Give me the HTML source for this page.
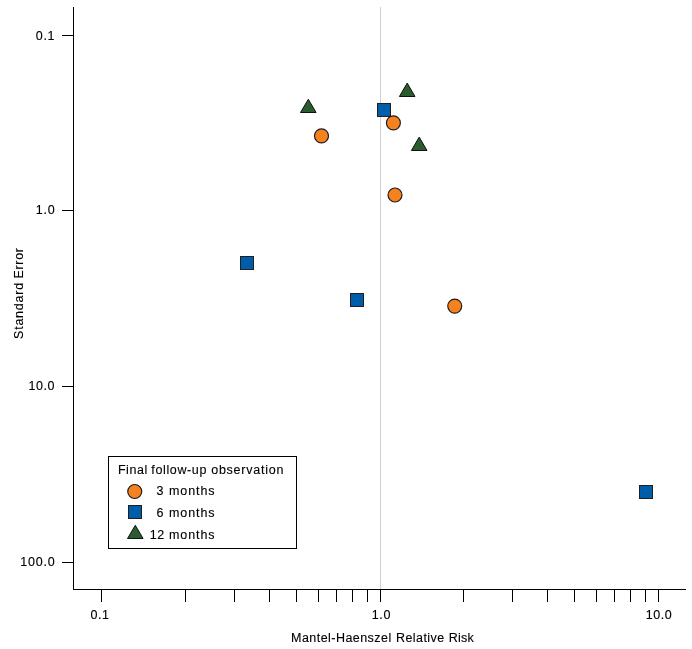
<!DOCTYPE html>
<html><head><meta charset="utf-8"><title>Funnel plot</title>
<style>html,body{margin:0;padding:0;background:#fff;}body{width:692px;height:649px;overflow:hidden;}svg{will-change:transform;display:block;position:absolute;left:0;top:0;}text{font-family:"Liberation Sans",sans-serif;font-size:12.5px;fill:#000;stroke:#000;stroke-width:0.12px;}</style>
</head><body>
<svg width="692" height="649" viewBox="0 0 692 649">
<rect x="0" y="0" width="692" height="649" fill="#ffffff"/>
<g shape-rendering="crispEdges">
<rect x="380" y="7" width="1" height="582" fill="#cfd0d5"/>
<rect x="73" y="7" width="1" height="583" fill="#000"/>
<rect x="73" y="589" width="613" height="1" fill="#000"/>
<rect x="62" y="35" width="11" height="1" fill="#000"/>
<rect x="62" y="210" width="11" height="1" fill="#000"/>
<rect x="62" y="386" width="11" height="1" fill="#000"/>
<rect x="62" y="562" width="11" height="1" fill="#000"/>
<rect x="101" y="590" width="1" height="12" fill="#000"/>
<rect x="185" y="590" width="1" height="12" fill="#000"/>
<rect x="234" y="590" width="1" height="12" fill="#000"/>
<rect x="269" y="590" width="1" height="12" fill="#000"/>
<rect x="296" y="590" width="1" height="12" fill="#000"/>
<rect x="318" y="590" width="1" height="12" fill="#000"/>
<rect x="336" y="590" width="1" height="12" fill="#000"/>
<rect x="352" y="590" width="1" height="12" fill="#000"/>
<rect x="367" y="590" width="1" height="12" fill="#000"/>
<rect x="380" y="590" width="1" height="12" fill="#000"/>
<rect x="463" y="590" width="1" height="12" fill="#000"/>
<rect x="512" y="590" width="1" height="12" fill="#000"/>
<rect x="547" y="590" width="1" height="12" fill="#000"/>
<rect x="574" y="590" width="1" height="12" fill="#000"/>
<rect x="596" y="590" width="1" height="12" fill="#000"/>
<rect x="614" y="590" width="1" height="12" fill="#000"/>
<rect x="630" y="590" width="1" height="12" fill="#000"/>
<rect x="645" y="590" width="1" height="12" fill="#000"/>
<rect x="658" y="590" width="1" height="12" fill="#000"/>
<rect x="108.5" y="456.5" width="188" height="92" fill="#fff" stroke="#000" stroke-width="1"/>
</g>
<rect x="240.5" y="256.5" width="13" height="13" fill="#005DAA" stroke="#231F20" stroke-width="1" shape-rendering="crispEdges"/>
<rect x="350.5" y="293.5" width="13" height="13" fill="#005DAA" stroke="#231F20" stroke-width="1" shape-rendering="crispEdges"/>
<rect x="639.5" y="485.5" width="13" height="13" fill="#005DAA" stroke="#231F20" stroke-width="1" shape-rendering="crispEdges"/>
<rect x="377.5" y="103.5" width="13" height="13" fill="#005DAA" stroke="#231F20" stroke-width="1" shape-rendering="crispEdges"/>
<circle cx="321.5" cy="135.9" r="7.0" fill="#F5821F" stroke="#1c1a1b" stroke-width="1.15"/>
<circle cx="393.4" cy="122.85" r="7.0" fill="#F5821F" stroke="#1c1a1b" stroke-width="1.15"/>
<circle cx="395" cy="195" r="7.0" fill="#F5821F" stroke="#1c1a1b" stroke-width="1.15"/>
<circle cx="454.75" cy="306.1" r="7.0" fill="#F5821F" stroke="#1c1a1b" stroke-width="1.15"/>
<path d="M308.3,99.3 L316.1,112.5 L300.5,112.5 Z" fill="#2A5C2F" stroke="#111" stroke-width="1" stroke-linejoin="miter"/>
<path d="M407.2,83.1 L415.0,96.5 L399.4,96.5 Z" fill="#2A5C2F" stroke="#111" stroke-width="1" stroke-linejoin="miter"/>
<path d="M419.2,137.1 L427.0,150.5 L411.4,150.5 Z" fill="#2A5C2F" stroke="#111" stroke-width="1" stroke-linejoin="miter"/>
<circle cx="134.75" cy="491.5" r="7.0" fill="#F5821F" stroke="#1c1a1b" stroke-width="1.15"/>
<rect x="128.5" y="505.5" width="13" height="13" fill="#005DAA" stroke="#231F20" stroke-width="1" shape-rendering="crispEdges"/>
<path d="M135.3,525.3 L143.1,538.5 L127.5,538.5 Z" fill="#2A5C2F" stroke="#111" stroke-width="1" stroke-linejoin="miter"/>
<text x="35.80" y="40" letter-spacing="0.675">0.1</text>
<text x="35.80" y="214" letter-spacing="0.713">1.0</text>
<text x="28.60" y="390" letter-spacing="0.542">10.0</text>
<text x="20.30" y="566" letter-spacing="0.788">100.0</text>
<text x="90.50" y="619" letter-spacing="0.575">0.1</text>
<text x="371.70" y="619" letter-spacing="0.662">1.0</text>
<text x="645.70" y="619" letter-spacing="0.542">10.0</text>
<text x="291.05" y="642" letter-spacing="0.454">Mantel-Haenszel</text>
<text x="396.05" y="642" letter-spacing="0.418">Relative</text>
<text x="448.80" y="642" letter-spacing="0.183">Risk</text>
<text x="23.2" y="338.93" letter-spacing="0.757" transform="rotate(-90 23.2 338.93)">Standard</text>
<text x="23.2" y="278.60" letter-spacing="0.694" transform="rotate(-90 23.2 278.60)">Error</text>
<text x="117.90" y="474" letter-spacing="0.587">Final</text>
<text x="151.28" y="474" letter-spacing="0.641">follow-up</text>
<text x="211.20" y="474" letter-spacing="0.753">observation</text>
<text x="156.60" y="495" letter-spacing="0.000">3</text>
<text x="169.03" y="495" letter-spacing="0.915">months</text>
<text x="156.47" y="517" letter-spacing="0.000">6</text>
<text x="169.03" y="517" letter-spacing="0.915">months</text>
<text x="149.80" y="539" letter-spacing="0.450">12</text>
<text x="169.03" y="539" letter-spacing="0.915">months</text>
</svg>
</body></html>
